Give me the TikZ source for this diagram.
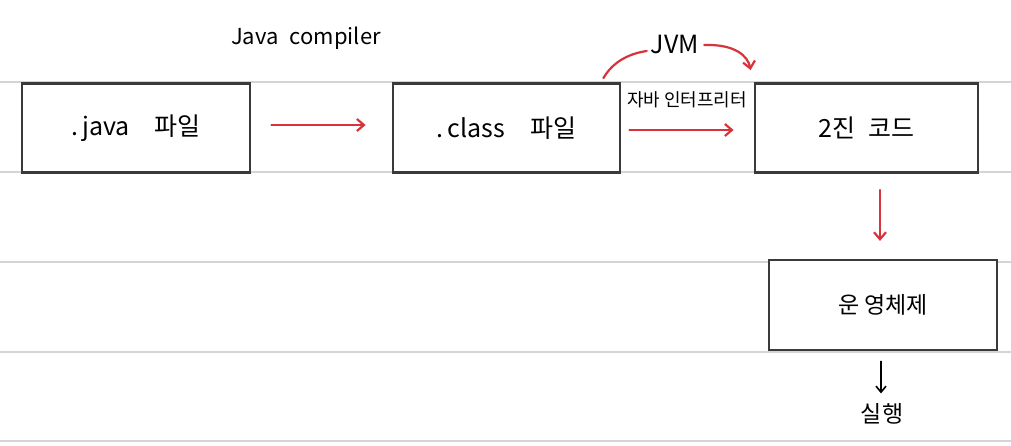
\documentclass[tikz,border=0pt]{standalone}
\usepackage{fontspec}
\setmainfont{Noto Sans CJK KR}
\usetikzlibrary{arrows.meta}
\definecolor{rulegray}{HTML}{D4D4D4}
\definecolor{boxgray}{HTML}{3A3A3A}
\definecolor{penred}{HTML}{D8333A}
\tikzset{
  rule/.style={draw=rulegray, line width=2.2pt},
  box/.style={draw=boxgray, line width=2.8pt, fill=white, minimum width=#1, minimum height=89pt, inner sep=0pt, font=\fontsize{25}{28}\selectfont},
  redarrow/.style={draw=penred, line width=2.2pt, -{Straight Barb[length=7pt,width=12pt,line width=2.2pt]}, line cap=round},
  blackarrow/.style={draw=black, line width=1.6pt, -{Straight Barb[length=6pt,width=10pt,line width=1.6pt]}, line cap=round},
  lbl/.style={font=\fontsize{22}{24}\selectfont, inner sep=1pt},
}
\begin{document}
\begin{tikzpicture}[x=1pt,y=-1pt]
\useasboundingbox (0,0) rectangle (1011,446);
\fill[white] (0,0) rectangle (1011,446);
\foreach \yy in {82,172,262,352,441} { \draw[rule] (0,\yy) -- (1011,\yy); }
\node[box=228pt] (java) at (136,128) {.\,java\quad 파일};
\node[box=227pt] (class) at (506.5,128) {.\,class\quad 파일};
\node[box=223pt] (bin) at (866.5,128) {2진\enspace 코드};
\node[box=228pt, minimum height=90pt, font=\fontsize{23}{26}\selectfont] (os) at (883,305) {운 영체제};
\node[lbl] (comp) at (306,38) {Java\enspace compiler};
\node[lbl, font=\fontsize{18}{20}\selectfont] (interp) at (687,100) {자바 인터프리터};
\node[lbl, font=\fontsize{25}{28}\selectfont] (jvm) at (675,45) {JVM};
\node[lbl, font=\fontsize{23}{26}\selectfont] (run) at (882,414) {실행};
\draw[redarrow] ([xshift=20pt,yshift=3pt]java.east) -- ([xshift=-26pt,yshift=3pt]class.west);
\draw[redarrow] ([xshift=8pt,yshift=-2pt]class.east) -- ([xshift=-20pt,yshift=-2pt]bin.west);
\draw[draw=penred, line width=2.2pt, line cap=round] ([xshift=-18pt,yshift=4pt]class.north east) .. controls ([xshift=-10pt,yshift=18pt]class.north east) and (626,54) .. ([xshift=-3pt,yshift=-6pt]jvm.west);
\draw[redarrow] ([xshift=4pt]jvm.east) .. controls (735,44) and (748,56) .. ([xshift=-3pt,yshift=12pt]bin.north west);
\draw[redarrow] ([xshift=13.5pt,yshift=-16pt]bin.south) -- ([xshift=13.5pt,yshift=-67pt]bin.south);
\draw[blackarrow] ([xshift=-2pt,yshift=-10pt]os.south) -- ([xshift=-2pt,yshift=-42pt]os.south);
\end{tikzpicture}
\end{document}
